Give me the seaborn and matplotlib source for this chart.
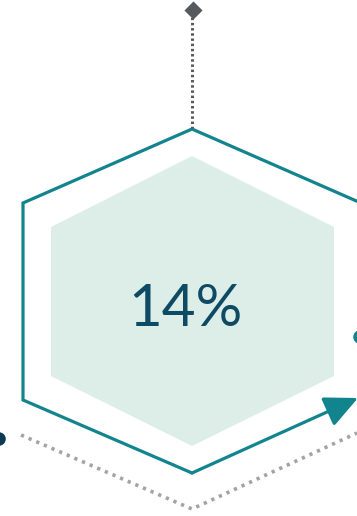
import matplotlib
matplotlib.use("Agg")
import matplotlib.pyplot as plt
import seaborn as sns
import pandas as pd

# value shown in the centre
label = "14%"

# outer hexagon outline (pixel coordinates, y down)
outer_x = [192, 23, 23, 192, 361, 361]
outer_y = [473, 400, 203, 129, 203, 400]

# inner filled hexagon
inner_x = [192, 51, 51, 192, 334, 334]
inner_y = [446, 376, 227, 156, 227, 376]

# arrow segment along lower-right edge
arrow_x = [192, 358]
arrow_y = [473, 398]

# dotted leader at the top
leader_x = [192, 192]
leader_y = [12, 128]

# gray dotted V below
vee_x = [21, 192, 357]
vee_y = [435, 509, 433]

# end dots
dots = pd.DataFrame({"x": [-1, 360], "y": [439, 337], "kind": ["left", "right"]})

teal = "#12848e"
sns.set_theme(style="white")
fig = plt.figure(figsize=(3.57, 5.16), dpi=100)
ax = fig.add_axes([0, 0, 1, 1])
ax.set_xlim(0, 357)
ax.set_ylim(516, 0)
ax.axis("off")

ax.fill(inner_x, inner_y, color="#ddeee8", lw=0)
ax.plot(outer_x, outer_y, color=teal, lw=2.3, solid_joinstyle="miter")
ax.annotate("", xy=(arrow_x[1], arrow_y[1]), xytext=(arrow_x[0], arrow_y[0]),
            annotation_clip=False,
            arrowprops=dict(arrowstyle="-|>,head_length=1.7,head_width=0.8",
                            color=teal, lw=2.3, shrinkA=0, shrinkB=0))

sns.lineplot(x=leader_x, y=leader_y, ax=ax, color="#56595e", lw=2.2,
             linestyle=(0, (0.8, 0.9)), sort=False, estimator=None)
sns.lineplot(x=vee_x, y=vee_y, ax=ax, color="#a3a3a3", lw=2.6,
             linestyle=(0, (0.9, 1.4)), sort=False, estimator=None)

ax.scatter([193], [10], marker="D", s=85, color="#56595e", zorder=5, lw=0)
sns.scatterplot(data=dots, x="x", y="y", hue="kind",
                palette={"left": "#0d3c52", "right": teal},
                s=95, legend=False, ax=ax, linewidth=0, zorder=5)

ax.text(185, 309, label, ha="center", va="center", fontsize=42,
        family="Lato", weight="normal", color="#0f4a64")
ax.set_xlim(0, 357)
ax.set_ylim(516, 0)
ax.axis("off")

fig.savefig("out.png", dpi=100)
